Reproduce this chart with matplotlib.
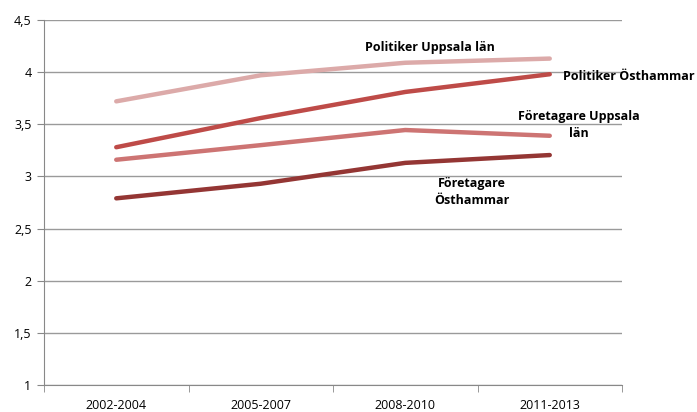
import numpy as np
import matplotlib.pyplot as plt
from matplotlib.ticker import FixedLocator, FuncFormatter

# Data
periods = ['2002-2004', '2005-2007', '2008-2010', '2011-2013']
politiker_uppsala = [3.72, 3.97, 4.09, 4.13]
politiker_osthammar = [3.28, 3.56, 3.81, 3.98]
foretagare_uppsala = [3.16, 3.30, 3.445, 3.39]
foretagare_osthammar = [2.79, 2.93, 3.13, 3.205]

plt.rcParams['font.family'] = ['Open Sans', 'DejaVu Sans']

fig = plt.figure(figsize=(6.97, 4.12), dpi=100)
ax = fig.add_axes([44 / 697, 1 - 385 / 412, (622 - 44) / 697, (385 - 20) / 412])

x = np.arange(len(periods))
lw = 3.2
ax.plot(x, politiker_uppsala, color='#dcaaa9', lw=lw, solid_capstyle='round', zorder=3)
ax.plot(x, politiker_osthammar, color='#be4b48', lw=lw, solid_capstyle='round', zorder=3)
ax.plot(x, foretagare_uppsala, color='#cd7473', lw=lw, solid_capstyle='round', zorder=3)
ax.plot(x, foretagare_osthammar, color='#943634', lw=lw, solid_capstyle='round', zorder=3)

ax.set_xlim(-0.5, len(periods) - 0.5)
ax.set_ylim(1, 4.5)
ax.set_yticks(np.arange(1, 4.51, 0.5))
ax.yaxis.set_major_formatter(FuncFormatter(lambda v, p: ('%g' % v).replace('.', ',')))
ax.set_xticks(x)
ax.set_xticklabels(periods)
ax.xaxis.set_minor_locator(FixedLocator(np.arange(-0.5, len(periods), 1)))
ax.tick_params(axis='x', which='major', length=0, pad=10, labelsize=9)
ax.tick_params(axis='x', which='minor', length=5, color='#888888')
ax.tick_params(axis='y', length=5, color='#888888', labelsize=9, pad=4)

ax.grid(axis='y', color='#9a9a9a', lw=1)
ax.set_axisbelow(True)
for s in ['top', 'right']:
    ax.spines[s].set_visible(False)
ax.spines['left'].set_color('#888888')
ax.spines['bottom'].set_color('#888888')

# Series labels
kw = dict(fontsize=9, fontweight='bold', color='black', clip_on=False)
ax.text(2.17, 4.24, 'Politiker Uppsala län', ha='center', va='center', **kw)
ax.text(3.09, 3.96, 'Politiker Östhammar', ha='left', va='center', **kw)
ax.text(3.2, 3.49, 'Företagare Uppsala\nlän', ha='center', va='center', linespacing=1.4, **kw)
ax.text(2.46, 2.85, 'Företagare\nÖsthammar', ha='center', va='center', linespacing=1.4, **kw)

fig.savefig('out.png', dpi=100)
